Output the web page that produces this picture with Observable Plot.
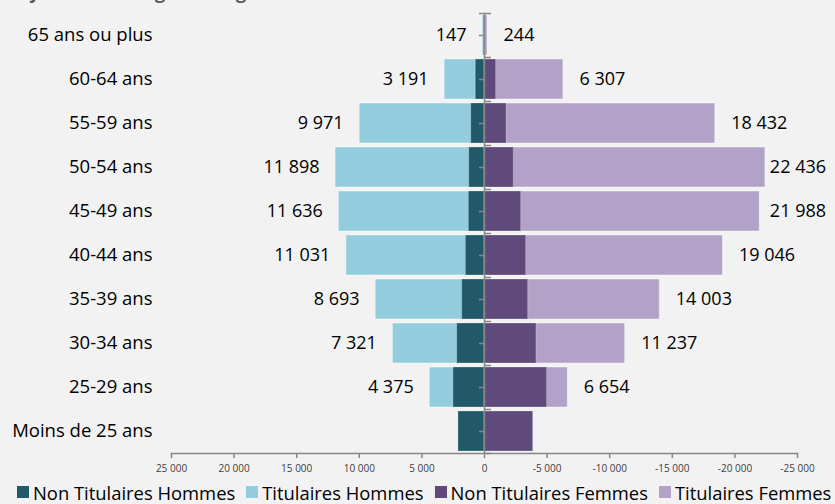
<!DOCTYPE html>
<html><head><meta charset="utf-8">
<script src="https://cdn.jsdelivr.net/npm/d3@7"></script>
<script src="https://cdn.jsdelivr.net/npm/@observablehq/plot@0.6"></script>
<style>
html,body{margin:0;padding:0;background:#f2f2f2;}
#wrap{position:relative;width:835px;height:504px;overflow:hidden;font-family:"Open Sans",sans-serif;}
#title{position:absolute;left:18px;top:-20px;line-height:24px;font-weight:bold;font-size:18px;color:#595959;white-space:nowrap;}
#chart svg{display:block;}
#legend{position:absolute;left:17px;top:479px;height:26px;display:flex;align-items:center;white-space:nowrap;font-size:18.4px;color:#000;}
#legend .item{display:flex;align-items:center;margin-right:11px;}
#legend .sw{width:12px;height:12px;margin-right:4px;}
</style></head><body>
<div id="wrap">
  <div id="title">Pyramide des âges des agents</div>
  <div id="chart"></div>
  <div id="legend"></div>
</div>
<script>
const ages = ["65 ans ou plus","60-64 ans","55-59 ans","50-54 ans","45-49 ans","40-44 ans","35-39 ans","30-34 ans","25-29 ans","Moins de 25 ans"];
const nonTitHommes = [60, 700, 1060, 1220, 1250, 1490, 1780, 2180, 2480, 2080];
const titHommes    = [147, 3191, 9971, 11898, 11636, 11031, 8693, 7321, 4375, 0];
const nonTitFemmes = [90, 930, 1760, 2340, 2930, 3330, 3490, 4150, 5000, 3890];
const titFemmes    = [244, 6307, 18432, 22436, 21988, 19046, 14003, 11237, 6654, 0];
const series = ["Non Titulaires Hommes","Titulaires Hommes","Non Titulaires Femmes","Titulaires Femmes"];
const colors = ["#215968","#93cddd","#604a7b","#b3a2c7"];
const xTicks = [25000,20000,15000,10000,5000,0,-5000,-10000,-15000,-20000,-25000];

const loc = d3.formatLocale({decimal:",", thousands:"\u00a0", grouping:[3], currency:["","€"], minus:"-"});
const fmt = loc.format(",d");

// Men plotted as positive values (left), women as negative values (right)
const rows = (vals, s, sign) => ages.map((a,i) => ({age:a, v: sign*vals[i], raw: vals[i], s}));
const tH = rows(titHommes, series[1], 1);
const nH = rows(nonTitHommes, series[0], 1);
const tF = rows(titFemmes, series[3], -1);
const nF = rows(nonTitFemmes, series[2], -1);

const axisColor = "#868686";

const plot = Plot.plot({
  width: 835,
  height: 478,
  marginLeft: 171,
  marginRight: 38,
  marginTop: 13,
  marginBottom: 25,
  style: {background: "transparent", fontFamily: "Open Sans, sans-serif", overflow: "visible"},
  x: {domain: [25000, -25000]},
  y: {domain: ages, paddingInner: 0.09, paddingOuter: 0.045},
  color: {domain: series, range: colors},
  marks: [
    Plot.barX(tH, {y: "age", x1: 0, x2: "v", fill: "s", stroke: "#ffffff", strokeOpacity: 0.45, strokeWidth: 1}),
    Plot.barX(tF, {y: "age", x1: 0, x2: "v", fill: "s", stroke: "#ffffff", strokeOpacity: 0.45, strokeWidth: 1}),
    Plot.barX(nH, {y: "age", x1: 0, x2: "v", fill: "s", stroke: "#ffffff", strokeOpacity: 0.25, strokeWidth: 1}),
    Plot.barX(nF, {y: "age", x1: 0, x2: "v", fill: "s", stroke: "#ffffff", strokeOpacity: 0.25, strokeWidth: 1}),
    Plot.ruleX([0], {stroke: axisColor, strokeWidth: 1.5}),
    // vertical category axis tick marks
    Plot.ruleY(ages, {y: d => d, x1: 0, x2: 400, stroke: axisColor, strokeWidth: 1.5}),
    Plot.ruleY(ages, {y: d => d, x1: 0, x2: -560, dy: 22, stroke: axisColor, strokeWidth: 1.5}),
    Plot.ruleY([ages[0]], {y: d => d, x1: 400, x2: -560, dy: -22, stroke: axisColor, strokeWidth: 1.5}),
    Plot.frame({anchor: "bottom", stroke: axisColor, strokeWidth: 1.5}),
    Plot.axisX({ticks: xTicks, tickFormat: fmt, tickSize: 5, tickPadding: 6, fontSize: 10, stroke: axisColor, strokeWidth: 1.5, color: "#404040", label: null}),
    Plot.axisY({tickSize: 0, tickPadding: 19, fontSize: 18.5, color: "#000", label: null}),
    Plot.text(tH.filter(d => d.raw > 0), {y: "age", x: "v", text: d => fmt(d.raw), textAnchor: "end", dx: -16, fontSize: 18, fill: "#000"}),
    Plot.text(tF.filter(d => d.raw > 0), {y: "age", x: "v", text: d => fmt(d.raw), textAnchor: "start", dx: 16, fontSize: 18, fill: "#000"})
  ]
});
document.getElementById("chart").appendChild(plot);

// keep the women labels inside the chart area (as the original does)
const svgLeft = plot.getBoundingClientRect().left;
const textGroups = plot.querySelectorAll('g[aria-label="text"]');
const womenGroup = textGroups[textGroups.length - 1];
if (womenGroup) {
  womenGroup.querySelectorAll("text").forEach(t => {
    const r = t.getBoundingClientRect();
    const over = (r.right - svgLeft) - 826;
    if (over > 0) t.setAttribute("dx", -over);
  });
}

const lg = document.getElementById("legend");
series.forEach((s, i) => {
  const it = document.createElement("div");
  it.className = "item";
  it.innerHTML = `<span class="sw" style="background:${colors[i]}"></span><span>${s}</span>`;
  lg.appendChild(it);
});
</script>
</body></html>
